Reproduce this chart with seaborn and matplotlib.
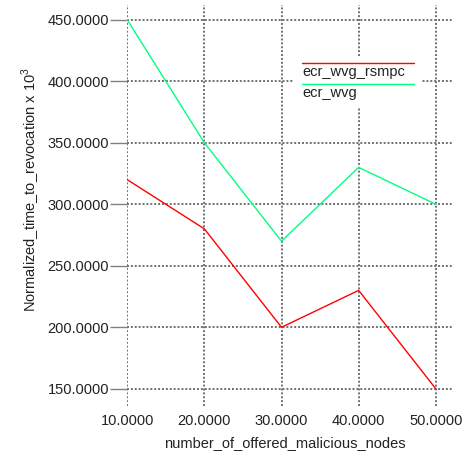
import matplotlib
matplotlib.use("Agg")
import matplotlib.pyplot as plt
import seaborn as sns
import pandas as pd
from matplotlib.lines import Line2D
from matplotlib.patches import Rectangle

x_values = [10, 20, 30, 40, 50]
ecr_wvg_rsmpc = [320, 280, 200, 230, 150]
ecr_wvg = [450, 350, 270, 330, 300]
series_names = ["ecr_wvg_rsmpc", "ecr_wvg"]
series_colors = ["#ff0000", "#00ff80"]
x_ticks = [10, 20, 30, 40, 50]
y_ticks = [150, 200, 250, 300, 350, 400, 450]

df = pd.DataFrame({
    "x": x_values * 2,
    "y": ecr_wvg_rsmpc + ecr_wvg,
    "series": [series_names[0]] * 5 + [series_names[1]] * 5,
})

sns.set_style("white")
plt.rcParams["font.family"] = ["Liberation Sans", "DejaVu Sans"]
plt.rcParams["mathtext.fontset"] = "custom"
plt.rcParams["mathtext.rm"] = "Liberation Sans"

fig = plt.figure(figsize=(4.76, 4.53), dpi=100)
ax = fig.add_axes([127 / 476, 47 / 453, 325 / 476, 401 / 453])

sns.lineplot(data=df, x="x", y="y", hue="series", palette=series_colors,
             hue_order=series_names, ax=ax, legend=False, linewidth=1.0, zorder=3)

ax.set_xlim(9.97, 52.1)
ax.set_ylim(136, 462)
ax.set_xticks(x_ticks)
ax.set_yticks(y_ticks)
ax.set_xticklabels([f"{v:.4f}" for v in x_ticks])
ax.set_yticklabels([f"{v:.4f}" for v in y_ticks])
for s in ax.spines.values():
    s.set_visible(False)
ax.grid(True, color="#707070", linestyle=(0, (1, 1)), linewidth=1.4, zorder=1)
ax.set_axisbelow(True)
ax.tick_params(axis="y", length=12, width=1, color="#808080", pad=1, labelsize=10.5,
               labelcolor="#222222", left=True)
ax.tick_params(axis="x", length=0, pad=6, labelsize=10.5, labelcolor="#222222", bottom=True)

ax.set_xlabel("number_of_offered_malicious_nodes", fontsize=10.5, color="#222222")
ax.xaxis.set_label_coords(0.485, -0.075)
ax.set_ylabel("Normalized_time_to_revocation x 10$^{3}$", fontsize=10.5, color="#222222")
ax.yaxis.set_label_coords(-0.26, 0.54)

# legend box (white, borderless) with lines above text
tr = fig.transFigure
fig.patches.append(Rectangle((293 / 476, 1 - 107 / 453), 129 / 476, 51 / 453,
                             transform=tr, facecolor="white", edgecolor="none", zorder=5))
ax.set_zorder(1)
legend_y = [63, 84]
for name, col, ly in zip(series_names, series_colors, legend_y):
    fig.lines.append(Line2D([302 / 476, 414 / 476], [1 - ly / 453, 1 - ly / 453],
                            transform=tr, color=col, linewidth=1.0, zorder=6))
    fig.text(302 / 476, 1 - (ly + 2) / 453, name, fontsize=10.5, color="#222222",
             ha="left", va="top", zorder=6)

fig.savefig("out.png", dpi=100)
